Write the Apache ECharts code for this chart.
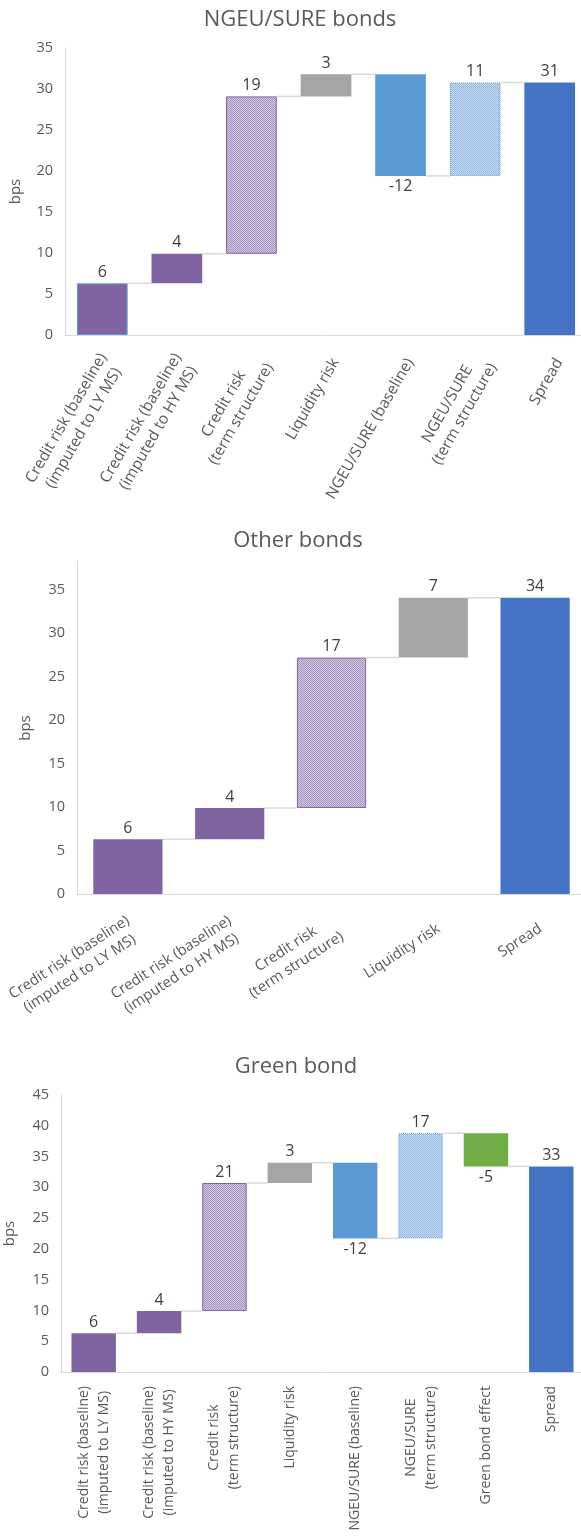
<!DOCTYPE html>
<html><head><meta charset="utf-8">
<script src="https://cdn.jsdelivr.net/npm/echarts@6/dist/echarts.min.js"></script>
<style>html,body{margin:0;padding:0;background:#fff}#c{width:581px;height:1537px}</style>
</head><body><div id="c"></div>
<script>
// ---------- Data ----------
const titles = ['NGEU/SURE bonds', 'Other bonds', 'Green bond'];

const cats1 = ['Credit risk (baseline)\n(imputed to LY MS)', 'Credit risk (baseline)\n(imputed to HY MS)', 'Credit risk\n(term structure)', 'Liquidity risk', 'NGEU/SURE (baseline)', 'NGEU/SURE\n(term structure)', 'Spread'];
const kinds1 = ['credit', 'credit', 'creditTerm', 'liquidity', 'ngeu', 'ngeuTerm', 'total'];
const vals1 = [6.3, 3.6, 19.2, 2.7, -12.4, 11.4, 30.8];
const yTicks1 = [0, 5, 10, 15, 20, 25, 30, 35];

const cats2 = ['Credit risk (baseline)\n(imputed to LY MS)', 'Credit risk (baseline)\n(imputed to HY MS)', 'Credit risk\n(term structure)', 'Liquidity risk', 'Spread'];
const kinds2 = ['credit', 'credit', 'creditTerm', 'liquidity', 'total'];
const vals2 = [6.3, 3.6, 17.3, 6.9, 34.1];
const yTicks2 = [0, 5, 10, 15, 20, 25, 30, 35];
const yMax2 = 38.2;

const cats3 = ['Credit risk (baseline)\n(imputed to LY MS)', 'Credit risk (baseline)\n(imputed to HY MS)', 'Credit risk\n(term structure)', 'Liquidity risk', 'NGEU/SURE (baseline)', 'NGEU/SURE\n(term structure)', 'Green bond effect', 'Spread'];
const kinds3 = ['credit', 'credit', 'creditTerm', 'liquidity', 'ngeu', 'ngeuTerm', 'green', 'total'];
const vals3 = [6.3, 3.6, 20.8, 3.3, -12.3, 17.1, -5.4, 33.4];
const yTicks3 = [0, 5, 10, 15, 20, 25, 30, 35, 40, 45];

// ---------- Styling ----------
const FONT = '"Open Sans", "Noto Sans", sans-serif';
function pattern(a, b) {
  const c = document.createElement('canvas');
  c.width = 2; c.height = 2;
  const x = c.getContext('2d');
  x.fillStyle = b; x.fillRect(0, 0, 2, 2);
  x.fillStyle = a; x.fillRect(0, 0, 1, 1); x.fillRect(1, 1, 1, 1);
  return { image: c, repeat: 'repeat' };
}
const styles = {
  credit: { color: '#8064a2' },
  creditTerm: { color: pattern('#a690c2', '#d3cae2'), borderColor: '#8064a2', borderWidth: 1 },
  liquidity: { color: '#a5a5a5' },
  ngeu: { color: '#5b9bd5' },
  ngeuTerm: { color: pattern('#94bce4', '#c6dbf0'), borderColor: '#5b9bd5', borderWidth: 1, borderType: 'dotted' },
  green: { color: '#70ad47' },
  total: { color: '#4472c4' }
};
const BAR_FRAC = 0.68;

function waterfall(vals, kinds) {
  let run = 0;
  const base = [], bar = [], level = [];
  vals.forEach((v, i) => {
    if (kinds[i] === 'total') {
      base.push(0); bar.push(v); run = v;
    } else {
      const s = run, e = run + v;
      base.push(Math.min(s, e)); bar.push(Math.abs(v)); run = e;
    }
    level.push(run);
  });
  return { base, bar, level };
}

const layouts = [
  { left: 65, top: 48, width: 522, height: 287, rotate: 60, margin: 19, pad: [22, 0, 0, 0], lsize: 15.5, lh: 20, nameGap: 42, titleX: 295, titleY: 4 },
  { left: 77, top: 562, width: 509, height: 332, rotate: 33, margin: 25, pad: [20, 0, 0, 0], lsize: 14.8, lh: 19, nameGap: 44, titleX: 293, titleY: 525 },
  { left: 61, top: 1095, width: 523, height: 277, rotate: 90, margin: 14, pad: 0, lsize: 14, lh: 20, nameGap: 44, titleX: 291, titleY: 1051 }
];
const charts = [
  { cats: cats1, kinds: kinds1, vals: vals1, ticks: yTicks1, max: yTicks1[yTicks1.length - 1] },
  { cats: cats2, kinds: kinds2, vals: vals2, ticks: yTicks2, max: yMax2 },
  { cats: cats3, kinds: kinds3, vals: vals3, ticks: yTicks3, max: yTicks3[yTicks3.length - 1] }
];

const option = { animation: false, title: [], grid: [], xAxis: [], yAxis: [], series: [] };

charts.forEach((ch, k) => {
  const L = layouts[k];
  const wf = waterfall(ch.vals, ch.kinds);
  option.title.push({
    text: titles[k], left: L.titleX, top: L.titleY, textAlign: 'center',
    textStyle: { fontFamily: FONT, fontSize: 22, fontWeight: 'normal', color: '#595959' }
  });
  option.grid.push({ left: L.left, top: L.top, width: L.width, height: L.height, containLabel: false, outerBoundsMode: 'none' });
  option.xAxis.push({
    type: 'category', gridIndex: k, data: ch.cats,
    axisLine: { lineStyle: { color: '#d9d9d9', width: 1 } },
    axisTick: { show: false },
    axisLabel: {
      interval: 0, rotate: L.rotate, margin: L.margin, hideOverlap: false, padding: L.pad,
      fontFamily: FONT, fontSize: L.lsize, color: '#595959', lineHeight: L.lh,
      formatter: v => v.split('\n').map(s => '{c|' + s + '}').join('\n'),
      rich: { c: { align: 'center', fontFamily: FONT, fontSize: L.lsize, color: '#595959', lineHeight: L.lh } }
    }
  });
  option.yAxis.push({
    type: 'value', gridIndex: k, min: ch.ticks[0], max: ch.max,
    interval: ch.ticks[1] - ch.ticks[0],
    splitLine: { show: false },
    axisTick: { show: false },
    axisLine: { show: true, lineStyle: { color: '#d9d9d9', width: 1 } },
    axisLabel: {
      margin: 12, fontFamily: FONT, fontSize: 14.5, color: '#595959',
      formatter: v => ch.ticks.indexOf(v) >= 0 ? String(v) : ''
    },
    name: 'bps', nameLocation: 'middle', nameGap: L.nameGap,
    nameTextStyle: { fontFamily: FONT, fontSize: 15, color: '#595959' }
  });
  // connectors between consecutive bars, at the running level
  option.series.push({
    type: 'custom', xAxisIndex: k, yAxisIndex: k, z: 1, silent: true,
    data: wf.level.slice(0, -1).map((lv, i) => [i, lv]),
    renderItem: (params, api) => {
      const i = params.dataIndex;
      const y = api.value(1);
      const p1 = api.coord([i, y]);
      const p2 = api.coord([i + 1, y]);
      const bw = api.size([1, 0])[0] * BAR_FRAC;
      return {
        type: 'line',
        shape: { x1: p1[0] + bw / 2, y1: p1[1], x2: p2[0] - bw / 2, y2: p1[1] },
        style: { stroke: '#d9d9d9', lineWidth: 1.5 }
      };
    }
  });
  const stack = 'wf' + k;
  option.series.push({
    type: 'bar', xAxisIndex: k, yAxisIndex: k, stack, barWidth: (BAR_FRAC * 100) + '%',
    itemStyle: { color: 'transparent' }, silent: true, z: 2,
    data: wf.base
  });
  option.series.push({
    type: 'bar', xAxisIndex: k, yAxisIndex: k, stack, barWidth: (BAR_FRAC * 100) + '%', z: 3,
    data: wf.bar.map((h, i) => {
      const neg = ch.kinds[i] !== 'total' && ch.vals[i] < 0;
      return {
        value: h,
        itemStyle: Object.assign({}, styles[ch.kinds[i]], (k === 0 && i === 0) ? { borderColor: '#5b9bd5', borderWidth: 1 } : {}),
        label: { position: neg ? 'bottom' : 'top' }
      };
    }),
    label: {
      show: true, distance: 3, fontFamily: FONT, fontSize: 16, color: '#404040',
      formatter: p => String(Math.round(ch.vals[p.dataIndex]))
    }
  });
});

const chart = echarts.init(document.getElementById('c'), null, { renderer: 'canvas' });
chart.setOption(option);
</script>
</body></html>
